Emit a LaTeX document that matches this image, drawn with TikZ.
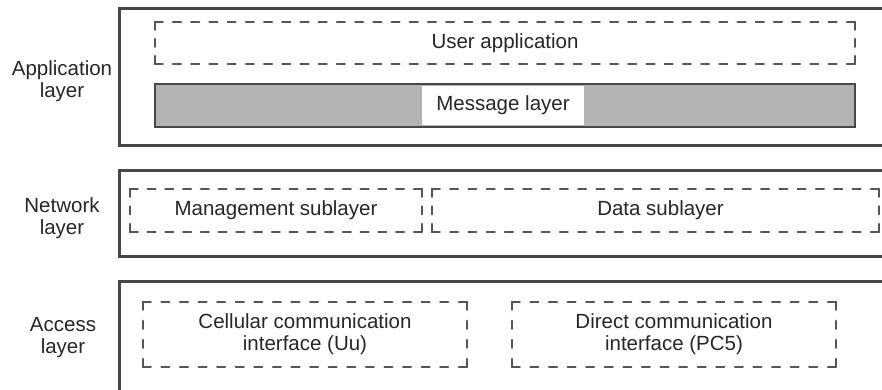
\documentclass[tikz,border=0pt]{standalone}
\usepackage{fontspec}
\setmainfont{Liberation Sans}

\definecolor{framec}{HTML}{474747}
\definecolor{dashc}{HTML}{555555}
\definecolor{txtc}{HTML}{262626}
\definecolor{msgfill}{HTML}{B3B3B3}

\tikzset{
  layerbox/.style={draw=framec, line width=2.5pt, anchor=north west, inner sep=0pt},
  dline/.style={draw=dashc, line width=2.2pt, line cap=round},
  lbl/.style={text=txtc, font=\fontsize{20.5}{22}\selectfont, align=center, inner sep=0pt},
  msgbar/.style={draw=framec, line width=2.2pt, fill=msgfill, inner sep=0pt},
}

% Dashed box whose sides each start and end with a dash:
% #1 name, #2 x1, #3 y1, #4 x2, #5 y2, #6 text
\newcommand\sidedashbox[6]{%
  \node[lbl, minimum width={(#4-#2)*1pt}, minimum height={(#5-#3)*1pt}]
    (#1) at ({(#2+#4)/2},{(#3+#5)/2}) {#6};
  \pgfmathsetmacro\nh{max(2,round(((#4-#2)+8)/18))}
  \pgfmathsetmacro\gh{((#4-#2)-\nh*8)/(\nh-1)}
  \pgfmathsetmacro\nv{max(2,round(((#5-#3)+8)/18))}
  \pgfmathsetmacro\gv{((#5-#3)-\nv*8)/(\nv-1)}
  \draw[dline, dash pattern=on 8pt off \gh pt] (#1.north west) -- (#1.north east);
  \draw[dline, dash pattern=on 8pt off \gh pt] (#1.south west) -- (#1.south east);
  \draw[dline, dash pattern=on 8pt off \gv pt] (#1.north west) -- (#1.south west);
  \draw[dline, dash pattern=on 8pt off \gv pt] (#1.north east) -- (#1.south east);
}

\begin{document}
\begin{tikzpicture}[x=1pt, y=-1pt]
  \useasboundingbox (0,0) rectangle (882,389);
  \clip (0,0) rectangle (882,389);

  % layer frames (open to the right and bottom)
  \node[layerbox, minimum width=790pt, minimum height=137pt] (app) at (118,7) {};
  \node[layerbox, minimum width=790pt, minimum height=86pt]  (net) at (118,169) {};
  \node[layerbox, minimum width=790pt, minimum height=140pt] (acc) at (118,280) {};

  % layer names
  \node[lbl] (applbl) at (62,81)  {Application\\layer};
  \node[lbl] (netlbl) at (62,218) {Network\\layer};
  \node[lbl] (acclbl) at (63,338) {Access\\layer};

  % application layer
  \sidedashbox{userapp}{155}{22}{855}{64}{User application}
  \node[msgbar, minimum width=700pt, minimum height=43pt] (msg) at (505,105.5) {};
  \node[lbl, fill=white, minimum width=162pt, minimum height=39pt] (msglbl) at (503,105.5) {Message layer};

  % network layer
  \sidedashbox{mgmt}{130}{189}{422}{232}{Management sublayer}
  \sidedashbox{data}{432}{189}{879}{232}{\hspace*{10pt}Data sublayer}

  % access layer
  \sidedashbox{cell}{143}{302}{467}{367}{Cellular communication\\interface (Uu)}
  \sidedashbox{direct}{512}{302}{836}{367}{Direct communication\\interface (PC5)}
\end{tikzpicture}
\end{document}
